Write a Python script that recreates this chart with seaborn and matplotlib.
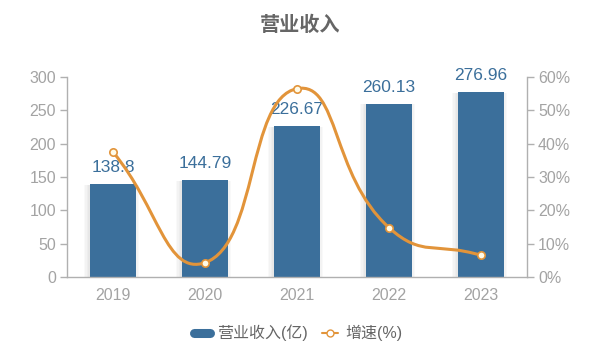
import numpy as np
import pandas as pd
import matplotlib
matplotlib.use("Agg")
import matplotlib.pyplot as plt
import seaborn as sns
from matplotlib.path import Path
from matplotlib.patches import PathPatch
from matplotlib.lines import Line2D
import matplotlib.patheffects as pe

years = ["2019", "2020", "2021", "2022", "2023"]
revenue = [138.8, 144.79, 226.67, 260.13, 276.96]
growth = [37.5, 4.3, 56.5, 14.8, 6.5]
left_ticks = [0, 50, 100, 150, 200, 250, 300]
right_ticks = [0, 10, 20, 30, 40, 50, 60]
title = "营业收入"
bar_label = "营业收入(亿)"
line_label = "增速(%)"

BLUE = "#3b6f9b"
ORANGE = "#e2943a"
GRAY = "#a3a3a3"
AXIS = "#b0b0b0"

sns.set_style("white")
plt.rcParams["font.family"] = ["Liberation Sans", "Noto Sans CJK SC", "DejaVu Sans"]

fig = plt.figure(figsize=(6, 3.56), dpi=100)
ax = fig.add_axes([67 / 600, 1 - 277 / 356, 460 / 600, 200 / 356])

df = pd.DataFrame({"year": years, "revenue": revenue})
sns.barplot(data=df, x="year", y="revenue", color=BLUE, width=0.5, ax=ax,
            saturation=1, zorder=2)
shadow = [pe.SimplePatchShadow(offset=(dx, -0.5), shadow_rgbFace="#000000", alpha=0.025)
          for dx in (-4.5, -3.5, -2.5, -1.5, 1.5, 2.5)]
for p in ax.patches:
    p.set_path_effects(shadow + [pe.Normal()])
    p.set_edgecolor("none")

ax.set_xlim(-0.5, 4.5)
ax.set_ylim(0, 300)
ax.set_yticks(left_ticks)
ax.set_xlabel("")
ax.set_ylabel("")
for i, v in enumerate(revenue):
    ax.annotate(f"{v:g}", (i, v), xytext=(0, 6.5), textcoords="offset points",
                ha="center", va="bottom", fontsize=12.5, color=BLUE, zorder=5)

# x ticks at category boundaries
ax.set_xticks(np.arange(-0.5, 5, 1), minor=False)
ax.set_xticklabels([])
ax.set_xticks(range(len(years)), minor=True)
ax.set_xticklabels(years, minor=True)
ax.tick_params(axis="x", which="major", length=5, width=1, color=AXIS, direction="out")
ax.tick_params(axis="x", which="minor", length=0, pad=8, labelsize=11.5, labelcolor=GRAY)
ax.tick_params(axis="y", length=5, width=1, color=AXIS, direction="out", labelsize=11.5,
               labelcolor=GRAY, pad=3)

for s in ["top", "right"]:
    ax.spines[s].set_visible(False)
for s in ["left", "bottom"]:
    ax.spines[s].set_color(AXIS)
    ax.spines[s].set_linewidth(1)

ax2 = ax.twinx()
ax2.set_ylim(0, 60)
ax2.set_yticks(right_ticks)
ax2.set_yticklabels([f"{t}%" for t in right_ticks])
ax2.tick_params(axis="y", length=5, width=1, color=AXIS, direction="out", labelsize=11.5,
                labelcolor=GRAY, pad=3)
for s in ["top", "left", "bottom"]:
    ax2.spines[s].set_visible(False)
ax2.spines["right"].set_color(AXIS)
ax2.spines["right"].set_linewidth(1)
ax2.grid(False)
ax.grid(False)

# smooth line (echarts-like bezier smoothing) in pixel space
fig.canvas.draw()
xs = np.arange(len(growth), dtype=float)
pts = ax2.transData.transform(np.column_stack([xs, growth]))
smooth = 0.5
n = len(pts)
cp0 = np.zeros_like(pts)
cp1 = np.zeros_like(pts)
for i in range(n):
    cur = pts[i]
    prev = pts[i - 1] if i > 0 else cur
    nxt = pts[i + 1] if i < n - 1 else cur
    vec = nxt - prev
    lp = np.hypot(*(cur - prev))
    ln = np.hypot(*(cur - nxt))
    r = ln / (ln + lp) if (ln + lp) > 0 else 0.5
    cp0[i] = cur - vec * smooth * (1 - r)
    cp1[i] = cur + vec * smooth * r
verts = [pts[0]]
codes = [Path.MOVETO]
for i in range(n - 1):
    verts += [cp1[i], cp0[i + 1], pts[i + 1]]
    codes += [Path.CURVE4] * 3
inv = ax2.transData.inverted()
verts = inv.transform(np.array(verts))
path = Path(verts, codes)
ax2.add_patch(PathPatch(path, facecolor="none", edgecolor=ORANGE, lw=2.2, zorder=3,
                        capstyle="round"))
gdf = pd.DataFrame({"x": xs, "g": growth})
sns.scatterplot(data=gdf, x="x", y="g", ax=ax2, s=28, color="#fffbe8", edgecolor=ORANGE,
                linewidth=1.2, zorder=4, legend=False)
ax2.set_xlabel("")
ax2.set_ylabel("")
ax2.set_xlim(-0.5, 4.5)

fig.text(0.5, 1 - 25 / 356, title, ha="center", va="center", fontsize=14.5,
         color="#666666", fontweight="bold")

handles = [
    Line2D([0], [0], color=BLUE, lw=6.5, solid_capstyle="round"),
    Line2D([0], [0], color=ORANGE, lw=1.5, marker="o", markersize=5,
           markerfacecolor="white", markeredgecolor=ORANGE),
]
fig.legend(handles, [bar_label, line_label], loc="center", bbox_to_anchor=(0.497, 1 - 333 / 356),
           ncol=2, frameon=False, fontsize=11.5, labelcolor="#666666",
           handlelength=1.0, handletextpad=0.45, columnspacing=0.9)

fig.savefig("out.png", dpi=100)
